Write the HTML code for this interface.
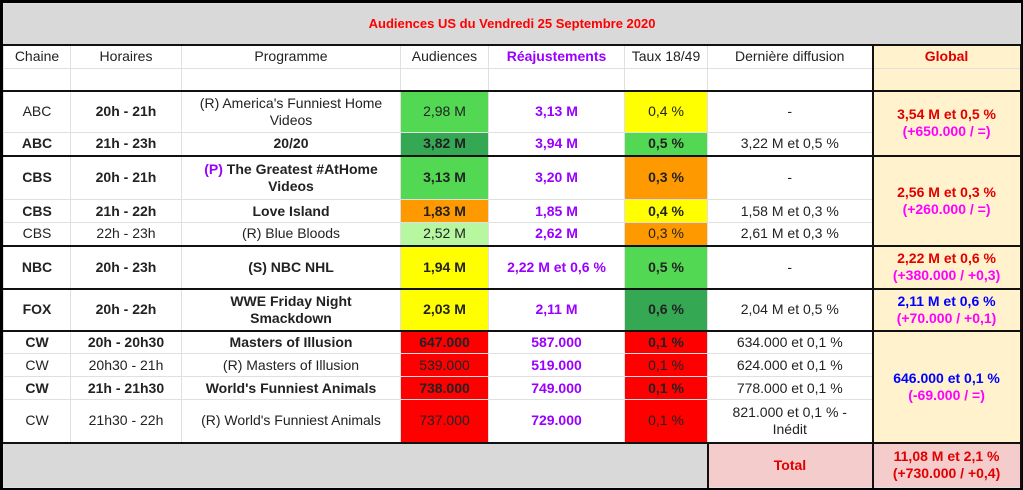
<!DOCTYPE html>
<html><head><meta charset="utf-8"><style>
body{margin:0;background:#fff;width:1023px;height:490px;overflow:hidden}
.w{position:absolute;left:0;top:0;width:1017px;height:484px;border:3px solid #000;}
table{border-collapse:collapse;table-layout:fixed;width:1017px;font-family:"Liberation Sans",Arial,sans-serif;font-size:14px;color:#222}
td{border:1px solid #e0e0e0;text-align:center;vertical-align:middle;padding:0 2px;line-height:17px;overflow:hidden;white-space:nowrap}
tr.g td{border-top:2px solid #111}
.b{font-weight:bold}
.gl{background:#fff2cc;border-left:2px solid #111!important;border-right:2px solid #111!important;font-weight:bold}
.p{color:#9900ff;font-weight:bold}
.m{color:#ff00ff}.rd{color:#e00000}.bl{color:#0000ff}
.G1{background:#52d852}.G2{background:#34a853}.LG{background:#b7f7a0}.Y{background:#ffff00}.O{background:#ff9900}.R{background:#ff0000}
</style></head><body><div class="w">
<table>
<colgroup><col style="width:67px"><col style="width:111px"><col style="width:219px"><col style="width:88px"><col style="width:136px"><col style="width:83px"><col style="width:165px"><col style="width:148px"></colgroup>
<tr style="height:41px"><td colspan="8" style="background:#d9d9d9;color:#ff0000;font-weight:bold;font-size:13px;border-bottom:2px solid #111">Audiences US du Vendredi 25 Septembre 2020</td></tr>
<tr style="height:24px"><td>Chaine</td><td>Horaires</td><td>Programme</td><td>Audiences</td><td class="p">Réajustements</td><td>Taux 18/49</td><td>Dernière diffusion</td><td class="gl rd" style="border-top:2px solid #111">Global</td></tr>
<tr style="height:22px"><td></td><td></td><td></td><td></td><td></td><td></td><td></td><td class="gl"></td></tr>
<tr class="g" style="height:42px"><td>ABC</td><td class="b">20h - 21h</td><td>(R) America's Funniest Home<br>Videos</td><td class="G1">2,98 M</td><td class="p">3,13 M</td><td class="Y">0,4 %</td><td>-</td><td class="gl" rowspan="2"><span class="rd">3,54 M et 0,5 %</span><br><span class="m">(+650.000 / =)</span></td></tr>
<tr style="height:23px"><td class="b">ABC</td><td class="b">21h - 23h</td><td class="b">20/20</td><td class="G2 b">3,82 M</td><td class="p">3,94 M</td><td class="G1 b">0,5 %</td><td>3,22 M et 0,5 %</td></tr>
<tr class="g" style="height:44px"><td class="b">CBS</td><td class="b">20h - 21h</td><td class="b"><span class="p">(P)</span> The Greatest #AtHome<br>Videos</td><td class="G1 b">3,13 M</td><td class="p">3,20 M</td><td class="O b">0,3 %</td><td>-</td><td class="gl" rowspan="3"><span class="rd">2,56 M et 0,3 %</span><br><span class="m">(+260.000 / =)</span></td></tr>
<tr style="height:23px"><td class="b">CBS</td><td class="b">21h - 22h</td><td class="b">Love Island</td><td class="O b">1,83 M</td><td class="p">1,85 M</td><td class="Y b">0,4 %</td><td>1,58 M et 0,3 %</td></tr>
<tr style="height:23px"><td>CBS</td><td>22h - 23h</td><td>(R) Blue Bloods</td><td class="LG">2,52 M</td><td class="p">2,62 M</td><td class="O">0,3 %</td><td>2,61 M et 0,3 %</td></tr>
<tr class="g" style="height:43px"><td class="b">NBC</td><td class="b">20h - 23h</td><td class="b">(S) NBC NHL</td><td class="Y b">1,94 M</td><td class="p">2,22 M et 0,6 %</td><td class="G1 b">0,5 %</td><td>-</td><td class="gl"><span class="rd">2,22 M et 0,6 %</span><br><span class="m">(+380.000 / +0,3)</span></td></tr>
<tr class="g" style="height:42px"><td class="b">FOX</td><td class="b">20h - 22h</td><td class="b">WWE Friday Night<br>Smackdown</td><td class="Y b">2,03 M</td><td class="p">2,11 M</td><td class="G2 b">0,6 %</td><td>2,04 M et 0,5 %</td><td class="gl"><span class="bl">2,11 M et 0,6 %</span><br><span class="m">(+70.000 / +0,1)</span></td></tr>
<tr class="g" style="height:23px"><td class="b">CW</td><td class="b">20h - 20h30</td><td class="b">Masters of Illusion</td><td class="R b">647.000</td><td class="p">587.000</td><td class="R b">0,1 %</td><td>634.000 et 0,1 %</td><td class="gl" rowspan="4"><span class="bl">646.000 et 0,1 %</span><br><span class="m">(-69.000 / =)</span></td></tr>
<tr style="height:23px"><td>CW</td><td>20h30 - 21h</td><td>(R) Masters of Illusion</td><td class="R">539.000</td><td class="p">519.000</td><td class="R">0,1 %</td><td>624.000 et 0,1 %</td></tr>
<tr style="height:23px"><td class="b">CW</td><td class="b">21h - 21h30</td><td class="b">World's Funniest Animals</td><td class="R b">738.000</td><td class="p">749.000</td><td class="R b">0,1 %</td><td>778.000 et 0,1 %</td></tr>
<tr style="height:43px"><td>CW</td><td>21h30 - 22h</td><td>(R) World's Funniest Animals</td><td class="R">737.000</td><td class="p">729.000</td><td class="R">0,1 %</td><td>821.000 et 0,1 % -<br>Inédit</td></tr>
<tr class="g" style="height:45px"><td colspan="6" style="background:#d9d9d9;border-right:2px solid #111"></td><td style="background:#f4cccc;color:#e00000;font-weight:bold">Total</td><td class="gl" style="background:#f4cccc;color:#e00000">11,08 M et 2,1 %<br>(+730.000 / +0,4)</td></tr>
</table></div></body></html>
